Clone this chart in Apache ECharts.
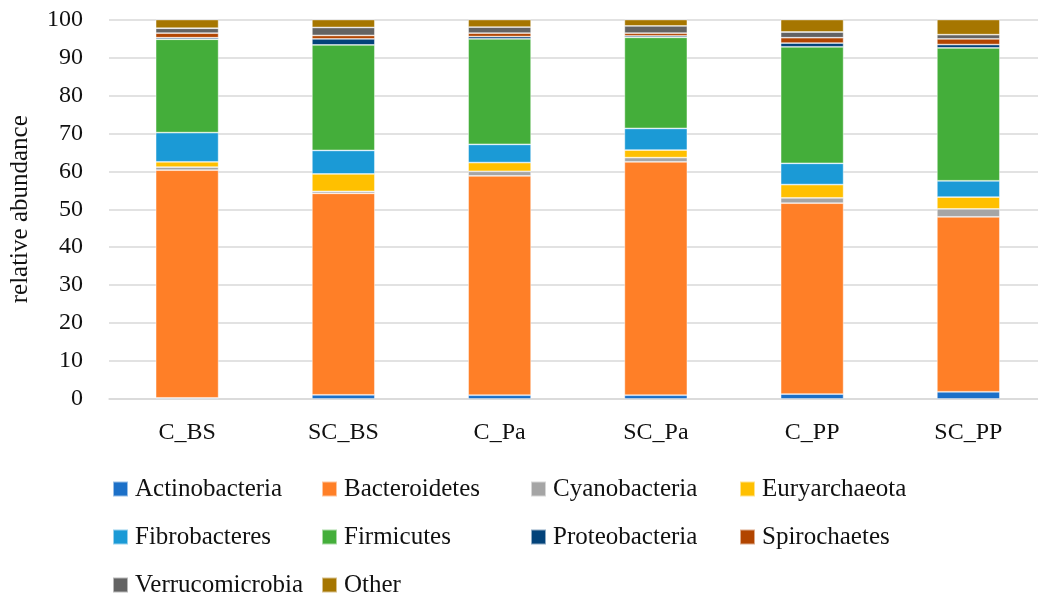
<!DOCTYPE html>
<html>
<head>
<meta charset="utf-8">
<script src="https://cdn.jsdelivr.net/npm/echarts@6/dist/echarts.min.js"></script>
<style>
html,body{margin:0;padding:0;background:#fff;overflow:hidden;}
#chart{width:1050px;height:595px;}
</style>
</head>
<body>
<div id="chart"></div>
<script>
const categories = ['C_BS', 'SC_BS', 'C_Pa', 'SC_Pa', 'C_PP', 'SC_PP'];
const phyla = ['Actinobacteria', 'Bacteroidetes', 'Cyanobacteria', 'Euryarchaeota', 'Fibrobacteres', 'Firmicutes', 'Proteobacteria', 'Spirochaetes', 'Verrucomicrobia', 'Other'];
const actinobacteria  = [0.3, 1.1, 1.0, 1.0, 1.3, 1.9];
const bacteroidetes   = [60.0, 53.1, 57.8, 61.5, 50.3, 46.1];
const cyanobacteria   = [0.8, 0.5, 1.2, 1.1, 1.4, 2.1];
const euryarchaeota   = [1.4, 4.6, 2.3, 2.0, 3.5, 3.1];
const fibrobacteres   = [7.7, 6.2, 4.8, 5.7, 5.6, 4.3];
const firmicutes      = [24.6, 27.8, 27.8, 24.0, 30.7, 35.0];
const proteobacteria  = [0.4, 1.6, 0.6, 0.4, 1.0, 0.9];
const spirochaetes    = [1.2, 0.9, 0.9, 0.7, 1.4, 1.5];
const verrucomicrobia = [1.3, 2.1, 1.6, 1.9, 1.5, 1.1];
const other           = [2.3, 2.1, 2.0, 1.7, 3.3, 4.0];
const yTicks = [0, 10, 20, 30, 40, 50, 60, 70, 80, 90, 100];

const seriesValues = [actinobacteria, bacteroidetes, cyanobacteria, euryarchaeota, fibrobacteres, firmicutes, proteobacteria, spirochaetes, verrucomicrobia, other];
const colors = ['#1C70C8', '#FF7F27', '#A5A5A5', '#FFC000', '#1B9AD6', '#44AE3A', '#03437A', '#B24500', '#636363', '#A67600'];
const FONT = '"Liberation Serif", "DejaVu Serif", serif';

const chart = echarts.init(document.getElementById('chart'), null, {renderer: 'canvas'});
chart.setOption({
  animation: false,
  backgroundColor: '#ffffff',
  color: colors,
  grid: {left: 105.5, width: 941, top: 19.5, bottom: 196, containLabel: false},
  xAxis: {
    type: 'category',
    data: categories,
    axisLine: {show: true, lineStyle: {color: '#d9d9d9', width: 1.5}},
    axisTick: {show: false},
    axisLabel: {fontFamily: FONT, fontSize: 24, color: '#111', margin: 22}
  },
  yAxis: {
    type: 'value',
    min: yTicks[0],
    max: yTicks[yTicks.length - 1],
    interval: 10,
    name: 'relative abundance',
    nameLocation: 'middle',
    nameGap: 76,
    nameRotate: 90,
    nameTextStyle: {fontFamily: FONT, fontSize: 25, color: '#111'},
    axisLine: {show: false},
    axisTick: {show: false},
    axisLabel: {fontFamily: FONT, fontSize: 24, color: '#111', margin: 26},
    splitLine: {show: true, lineStyle: {color: '#d9d9d9', width: 1.5}}
  },
  legend: {
    left: 112,
    top: 470,
    width: 850,
    padding: 0,
    itemWidth: 15,
    itemHeight: 15,
    itemGap: 10,
    icon: 'rect',
    data: phyla,
    textStyle: {fontFamily: FONT, fontSize: 25, color: '#111', width: 176, lineHeight: 38, padding: [0, 0, 0, 2]}
  },
  series: phyla.map((name, i) => ({
    name: name,
    type: 'bar',
    stack: 'total',
    barWidth: 63,
    data: seriesValues[i],
    itemStyle: {color: colors[i], borderColor: 'rgba(255,255,255,0.55)', borderWidth: 0.8}
  }))
});
</script>
</body>
</html>
